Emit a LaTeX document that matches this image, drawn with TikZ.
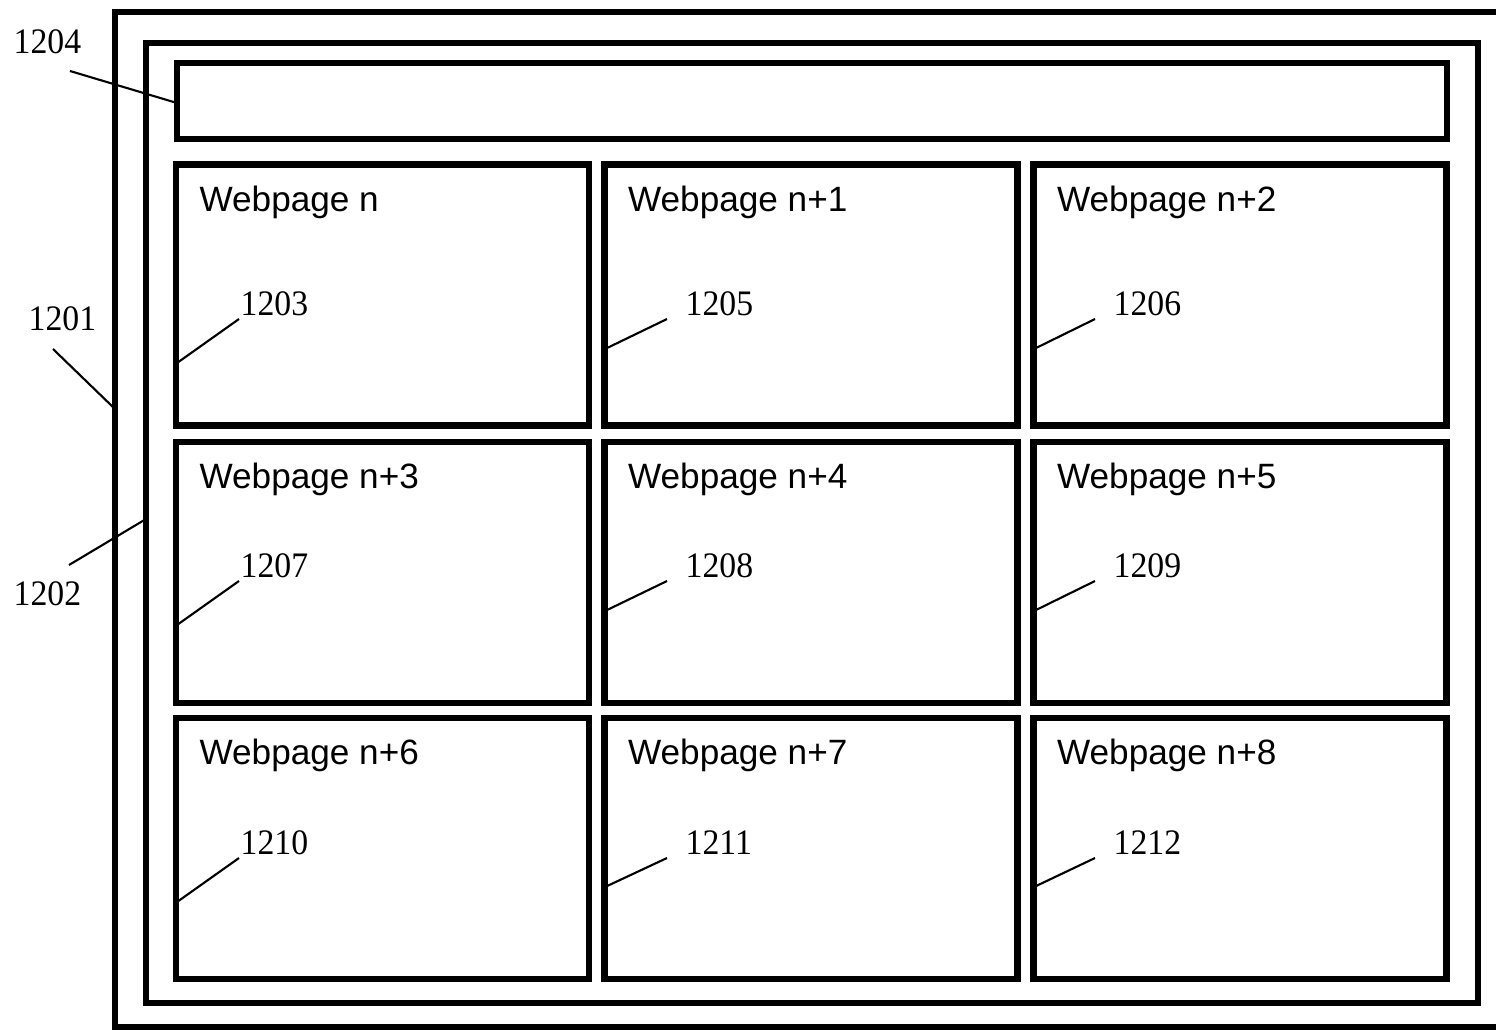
\documentclass[tikz,border=0pt]{standalone}
\usepackage{fontspec}
\setmainfont{Liberation Serif}
\setsansfont{Liberation Sans}
\newfontfamily\refnumfont[FakeStretch=0.94]{Liberation Serif}

\tikzset{
	frameline/.style = {line width = 1.6pt},
	boxline/.style = {line width = 1.85pt},
	pagebox/.style = {draw, boxline, minimum width = 4.13cm, minimum height = 2.61cm, inner sep = 0pt, outer sep = 0pt},
	pagetitle/.style = {font = \sffamily\fontsize{10}{12}\selectfont, anchor = base west, inner sep = 0pt},
	refnum/.style = {font = \refnumfont\fontsize{10.2}{12}\selectfont, anchor = base west, inner sep = 0pt},
	lead/.style = {line width = 0.6pt}
}

\begin{document}
\begin{tikzpicture}[x = 0.01cm, y = -0.01cm]
	\useasboundingbox (0, 0) rectangle (1496, 1030);
	\clip (0, 0) rectangle (1496, 1030);
	% browser window and display area
	\draw [frameline] (115, 12) rectangle (1520, 1027);
	\draw [boxline] (146, 43) rectangle (1478, 1003);
	%top bar
	\draw [boxline] (177, 63) rectangle (1447, 139);
	% the nine webpages
	\node [pagebox] (w0) at (382.5, 295) {};
	\node [pagebox] (w1) at (811, 295) {};
	\node [pagebox] (w2) at (1240, 295) {};
	\node [pagebox] (w3) at (382.5, 572.5) {};
	\node [pagebox] (w4) at (811, 572.5) {};
	\node [pagebox] (w5) at (1240, 572.5) {};
	\node [pagebox] (w6) at (382.5, 848.5) {};
	\node [pagebox] (w7) at (811, 848.5) {};
	\node [pagebox] (w8) at (1240, 848.5) {};
	\node [pagetitle] (t0) at ([shift = {(23, 47)}] w0.north west) {Webpage n};
	\node [pagetitle] (t1) at ([shift = {(23, 47)}] w1.north west) {Webpage n+1};
	\node [pagetitle] (t2) at ([shift = {(23, 47)}] w2.north west) {Webpage n+2};
	\node [pagetitle] (t3) at ([shift = {(23, 47)}] w3.north west) {Webpage n+3};
	\node [pagetitle] (t4) at ([shift = {(23, 47)}] w4.north west) {Webpage n+4};
	\node [pagetitle] (t5) at ([shift = {(23, 47)}] w5.north west) {Webpage n+5};
	\node [pagetitle] (t6) at ([shift = {(23, 47)}] w6.north west) {Webpage n+6};
	\node [pagetitle] (t7) at ([shift = {(23, 47)}] w7.north west) {Webpage n+7};
	\node [pagetitle] (t8) at ([shift = {(23, 47)}] w8.north west) {Webpage n+8};
	% reference numbers outside
	\node [refnum] (r1204) at (13, 53) {1204};
	\node [refnum] (r1201) at (28, 330) {1201};
	\node [refnum] (r1202) at (13, 605) {1202};
	\coordinate (c1204) at (177, 103);
	\coordinate (c1201) at (115, 409);
	\coordinate (c1202) at (146, 519);
	\draw [lead] ([shift = {(57, 18)}] r1204.base west) -- (c1204);
	\draw [lead] ([shift = {(25, 19)}] r1201.base west) -- (c1201);
	\draw [lead] ([shift = {(56, -40)}] r1202.base west) -- (c1202);
	% reference numbers inside the webpages
	\node [refnum] (r1203) at (240, 315) {1203};
	\node [refnum] (r1205) at (685, 315) {1205};
	\node [refnum] (r1206) at (1113, 315) {1206};
	\node [refnum] (r1207) at (240, 577) {1207};
	\node [refnum] (r1208) at (685, 577) {1208};
	\node [refnum] (r1209) at (1113, 577) {1209};
	\node [refnum] (r1210) at (240, 854) {1210};
	\node [refnum] (r1211) at (685, 854) {1211};
	\node [refnum] (r1212) at (1113, 854) {1212};
	\coordinate (c1203) at (177, 363);
	\coordinate (c1205) at (605, 349);
	\coordinate (c1206) at (1034, 349);
	\coordinate (c1207) at (177, 625);
	\coordinate (c1208) at (605, 611);
	\coordinate (c1209) at (1034, 611);
	\coordinate (c1210) at (177, 902);
	\coordinate (c1211) at (605, 887);
	\coordinate (c1212) at (1034, 887);
	\draw [lead] (c1203) -- ([shift = {(-1, 4)}] r1203.base west);
	\draw [lead] (c1207) -- ([shift = {(-1, 4)}] r1207.base west);
	\draw [lead] (c1210) -- ([shift = {(-1, 4)}] r1210.base west);
	\draw [lead] (c1205) -- ([shift = {(-18, 4)}] r1205.base west);
	\draw [lead] (c1208) -- ([shift = {(-18, 4)}] r1208.base west);
	\draw [lead] (c1211) -- ([shift = {(-18, 4)}] r1211.base west);
	\draw [lead] (c1206) -- ([shift = {(-18, 4)}] r1206.base west);
	\draw [lead] (c1209) -- ([shift = {(-18, 4)}] r1209.base west);
	\draw [lead] (c1212) -- ([shift = {(-18, 4)}] r1212.base west);
\end{tikzpicture}
\end{document}
